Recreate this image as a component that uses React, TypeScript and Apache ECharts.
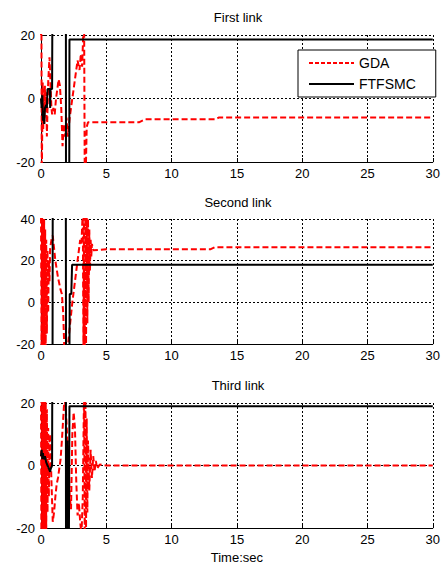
import React, { useEffect, useRef } from "react";
import * as echarts from "echarts";

const FONT = '"Liberation Sans", Arial, Helvetica, sans-serif';

const titles = ["First link", "Second link", "Third link"];
const xTicks = { min: 0, max: 30, interval: 5 };
const yRanges = [
  { min: -20, max: 20, interval: 20 },
  { min: -20, max: 40, interval: 20 },
  { min: -20, max: 20, interval: 20 },
];
const seriesNames = ["GDA", "FTFSMC"];

// First link
const gda1 = [
  [0, 20], [0.03, 30], [0.06, -25], [0.1, -25], [0.13, 5], [0.17, -10], [0.2, 3], [0.25, -8],
  [0.3, 4], [0.35, -4], [0.4, 2], [0.45, -12], [0.5, -3], [0.55, 5], [0.6, 9], [0.65, 13],
  [0.7, 8], [0.75, 2], [0.8, -3], [0.85, -5], [0.95, -3], [1.05, -5], [1.15, 0], [1.25, 3],
  [1.35, 6], [1.45, 4], [1.55, -3], [1.65, -15], [1.75, -8], [1.85, -12], [1.95, -6],
  [2.05, -12], [2.2, -6], [2.4, 0], [2.6, 6], [2.8, 12], [2.95, 9], [3.05, 14], [3.15, 10],
  [3.25, 22], [3.3, 25], [3.35, -25], [3.42, -25], [3.5, -9], [3.6, -7.5], [4, -7.5],
  [7.5, -7.5], [8, -6.5], [13.4, -6.5], [13.6, -6], [30, -6],
];
const ftfsmc1 = [
  [0, 0], [0.05, -3], [0.1, 1], [0.15, -7], [0.2, -4], [0.25, -8], [0.3, -3], [0.4, -2],
  [0.45, -3], [0.5, 3], [0.68, 3], [0.7, -3], [0.73, 3], [0.85, 3], [0.9, 60], [1.9, 60],
  [1.92, -60], [2.15, -60], [2.18, 18.6], [30, 18.6],
];

// Second link
const gda2 = [
  [0, 45], [0.04, -25], [0.08, 45], [0.12, -25], [0.16, 45], [0.2, -25], [0.24, 40],
  [0.28, -25], [0.32, 35], [0.36, -22], [0.4, 30], [0.45, -15], [0.5, 25], [0.55, -5],
  [0.6, 20], [0.65, 10], [0.7, 26], [0.8, 30], [0.9, 32], [1.0, 26], [1.1, 20], [1.3, 12],
  [1.5, 6], [1.6, 4], [1.7, -5], [1.8, -25], [2.0, -25], [2.2, -12], [2.4, 0], [2.6, 10],
  [2.8, 20], [3.0, 30], [3.1, 28], [3.2, 45], [3.25, -25], [3.3, 45], [3.35, -25],
  [3.4, 45], [3.45, -20], [3.5, 42], [3.55, -10], [3.6, 40], [3.65, 0], [3.7, 35],
  [3.75, 15], [3.8, 30], [3.85, 22], [3.9, 28], [4.0, 25], [5, 25.5], [13, 25.5],
  [13.3, 26.4], [30, 26.4],
];
const ftfsmc2 = [
  [0, -60], [0.88, -60], [0.9, 60], [1.9, 60], [1.92, -60], [2.15, -60], [2.2, 4],
  [2.32, 4], [2.38, 18], [30, 18],
];

// Third link
const gda3 = [
  [0, 25], [0.03, -25], [0.06, 25], [0.09, -25], [0.12, 25], [0.15, -25], [0.18, 25],
  [0.21, -25], [0.24, 25], [0.27, -25], [0.3, 25], [0.33, -25], [0.36, 22], [0.4, -22],
  [0.45, 18], [0.5, -15], [0.55, 12], [0.6, -10], [0.65, 8], [0.7, 10], [0.8, -5],
  [0.9, -18], [1.0, -15], [1.1, -10], [1.2, -6], [1.3, -4], [1.4, -1], [1.5, 2], [1.6, 8],
  [1.7, 15], [1.8, 22], [1.9, 18], [2.0, 10], [2.1, 0], [2.2, -10], [2.3, -14], [2.4, 10],
  [2.5, 17], [2.6, 12], [2.7, -5], [2.8, -16], [2.9, -12], [3.0, -18], [3.1, -22],
  [3.2, -10], [3.3, 25], [3.35, -25], [3.4, 25], [3.45, -20], [3.5, 15], [3.55, -15],
  [3.6, 8], [3.7, -8], [3.8, 5], [3.9, -4], [4.0, 3], [4.1, -2], [4.2, 1.5], [4.3, -1],
  [4.5, 0.3], [5, 0], [30, 0],
];
const ftfsmc3 = [
  [0, 3], [0.05, 5], [0.1, 2], [0.15, 4], [0.2, 2], [0.3, 3], [0.4, 1], [0.5, 0],
  [0.6, -1], [0.7, -2], [0.75, -1], [0.85, 0], [0.88, 60], [1.9, 60], [1.92, -60],
  [1.95, 7], [1.98, -60], [2.01, 8], [2.04, -60], [2.07, 5], [2.1, -60], [2.13, -60],
  [2.18, 19], [30, 19],
];

const gdaData = [gda1, gda2, gda3];
const ftfsmcData = [ftfsmc1, ftfsmc2, ftfsmc3];

const gridBoxes = [
  { left: 41, top: 35, width: 394, height: 127 },
  { left: 41, top: 219, width: 394, height: 125 },
  { left: 41, top: 403, width: 394, height: 125 },
];
const titleTops = [11, 196, 379];

export default function App() {
  const ref = useRef<HTMLDivElement>(null);
  useEffect(() => {
    if (!ref.current) return;
    const chart = echarts.init(ref.current, null, { renderer: "svg" });
    const axisCommon = {
      axisLine: { show: true, onZero: false, lineStyle: { color: "#000", width: 1 } },
      axisTick: { show: true, inside: true, length: 4, lineStyle: { color: "#000" } },
      splitLine: { show: true, lineStyle: { color: "#000", width: 1, type: [2, 2] } },
    };
    const option: any = {
      animation: false,
      backgroundColor: "#fff",
      title: titles.map((t, i) => ({
        text: t,
        left: 238,
        top: titleTops[i],
        textAlign: "center",
        padding: 0,
        textStyle: { fontSize: 13, fontWeight: "normal", color: "#000", fontFamily: FONT },
      })),
      legend: {
        data: [
          { name: seriesNames[0], lineStyle: { type: [4, 2] } },
          { name: seriesNames[1] },
        ],
        left: 298,
        top: 50,
        orient: "vertical",
        backgroundColor: "#fff",
        borderColor: "#000",
        borderWidth: 1,
        borderRadius: 0,
        padding: [6, 20, 6, 10],
        itemWidth: 45,
        itemHeight: 14,
        itemGap: 7,
        itemStyle: { opacity: 0 },
        textStyle: { fontSize: 14, color: "#000", fontFamily: FONT },
      },
      grid: gridBoxes.map((g) => ({ ...g, containLabel: false })),
      xAxis: gridBoxes.map((_, i) => ({
        type: "value",
        gridIndex: i,
        ...xTicks,
        ...axisCommon,
        axisLabel: { color: "#000", fontSize: 13, margin: 5, fontFamily: FONT },
        name: i === 2 ? "Time:sec" : "",
        nameLocation: "middle",
        nameGap: 23,
        nameTextStyle: { color: "#000", fontSize: 13, fontFamily: FONT },
      })),
      yAxis: yRanges.map((r, i) => ({
        type: "value",
        gridIndex: i,
        ...r,
        ...axisCommon,
        axisLabel: { color: "#000", fontSize: 13, margin: 6, fontFamily: FONT },
      })),
      series: [0, 1, 2].flatMap((i) => [
        {
          name: seriesNames[0],
          type: "line",
          xAxisIndex: i,
          yAxisIndex: i,
          data: gdaData[i],
          showSymbol: false,
          symbol: "none",
          clip: true,
          lineStyle: { color: "#ff0000", width: 2, type: [6, 3] },
          itemStyle: { color: "#ff0000" },
        },
        {
          name: seriesNames[1],
          type: "line",
          xAxisIndex: i,
          yAxisIndex: i,
          data: ftfsmcData[i],
          showSymbol: false,
          symbol: "none",
          clip: true,
          lineStyle: { color: "#000", width: 2, type: "solid" },
          itemStyle: { color: "#000" },
        },
      ]),
    };
    chart.setOption(option);
    return () => chart.dispose();
  }, []);
  return (
    <div
      ref={ref}
      style={{ position: "absolute", left: 0, top: 0, width: 443, height: 566 }}
    />
  );
}
